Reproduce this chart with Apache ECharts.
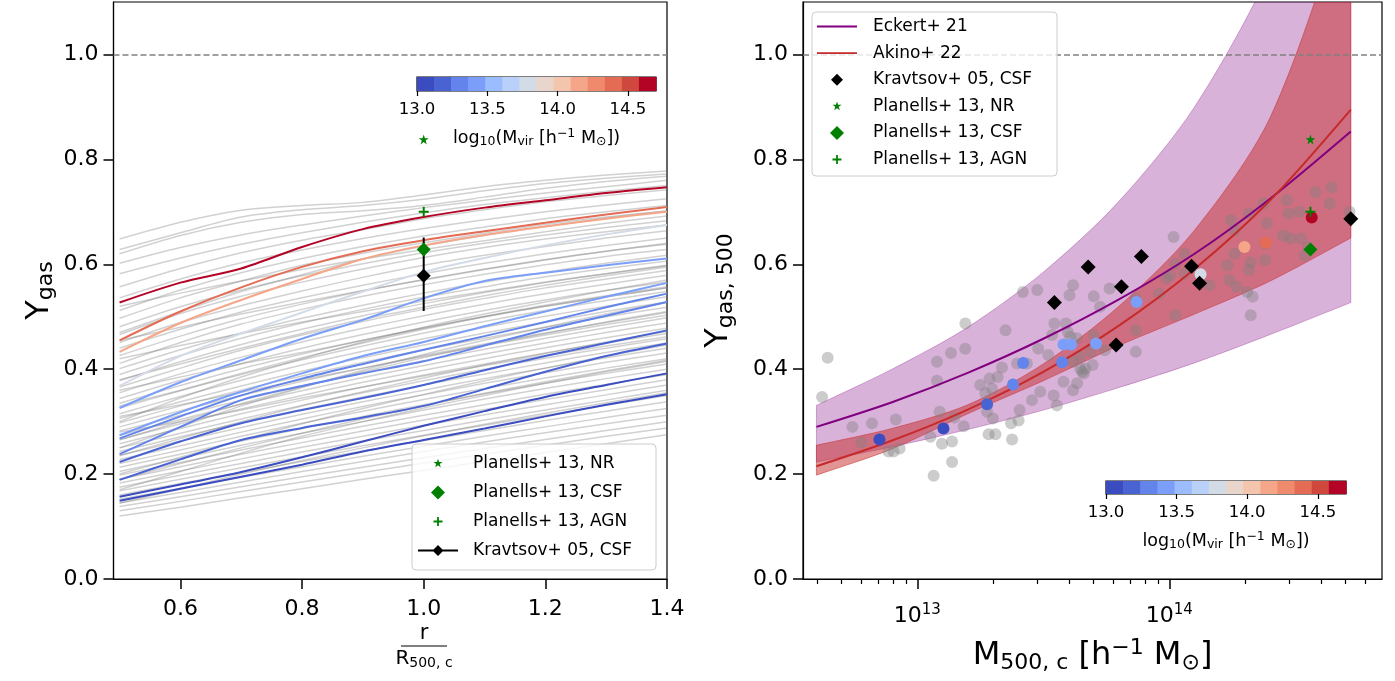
<!DOCTYPE html>
<html><head><meta charset="utf-8">
<script src="https://cdn.jsdelivr.net/npm/echarts@6/dist/echarts.min.js"></script>
<style>html,body{margin:0;padding:0;background:#fff}#c{width:1395px;height:681px}</style>
</head><body><div id="c"></div>
<script>
// ---------------- DATA ----------------
const RADII = [0.5,0.6,0.7,0.8,0.9,1.0,1.1,1.2,1.3,1.4];
const GREY_PROFILES = [
[0.648,0.680,0.703,0.712,0.718,0.732,0.748,0.760,0.770,0.778],
[0.628,0.660,0.690,0.704,0.712,0.724,0.740,0.754,0.764,0.772],
[0.602,0.632,0.656,0.675,0.692,0.708,0.722,0.736,0.748,0.760],
[0.582,0.612,0.638,0.660,0.680,0.698,0.714,0.727,0.739,0.750],
[0.557,0.592,0.622,0.646,0.666,0.687,0.704,0.719,0.731,0.742],
[0.536,0.572,0.603,0.627,0.649,0.668,0.685,0.700,0.713,0.725],
[0.512,0.551,0.584,0.611,0.634,0.654,0.671,0.687,0.700,0.712],
[0.497,0.536,0.568,0.598,0.621,0.641,0.659,0.676,0.690,0.701],
[0.481,0.519,0.551,0.578,0.601,0.622,0.640,0.656,0.670,0.683],
[0.466,0.506,0.539,0.566,0.591,0.613,0.632,0.648,0.662,0.675],
[0.451,0.489,0.521,0.549,0.575,0.598,0.617,0.634,0.650,0.664],
[0.440,0.476,0.509,0.536,0.560,0.582,0.602,0.620,0.636,0.650],
[0.426,0.463,0.496,0.524,0.549,0.571,0.591,0.609,0.625,0.638],
[0.411,0.451,0.486,0.514,0.539,0.561,0.581,0.599,0.615,0.628],
[0.401,0.437,0.469,0.497,0.522,0.545,0.566,0.585,0.602,0.617],
[0.390,0.426,0.459,0.488,0.514,0.537,0.557,0.576,0.592,0.606],
[0.378,0.414,0.447,0.476,0.502,0.525,0.546,0.565,0.582,0.597],
[0.366,0.402,0.436,0.465,0.491,0.514,0.535,0.555,0.572,0.588],
[0.355,0.391,0.423,0.452,0.478,0.502,0.524,0.544,0.562,0.579],
[0.344,0.379,0.411,0.440,0.466,0.490,0.512,0.532,0.550,0.566],
[0.335,0.369,0.401,0.429,0.455,0.479,0.501,0.522,0.540,0.557],
[0.326,0.359,0.390,0.418,0.444,0.469,0.491,0.512,0.531,0.548],
[0.315,0.348,0.379,0.408,0.434,0.458,0.480,0.501,0.520,0.538],
[0.306,0.338,0.368,0.396,0.422,0.446,0.469,0.490,0.510,0.528],
[0.298,0.330,0.360,0.387,0.413,0.437,0.459,0.480,0.500,0.518],
[0.290,0.321,0.350,0.377,0.402,0.426,0.448,0.469,0.489,0.508],
[0.282,0.312,0.341,0.368,0.393,0.416,0.438,0.459,0.479,0.498],
[0.274,0.304,0.333,0.359,0.384,0.407,0.429,0.450,0.470,0.488],
[0.266,0.296,0.324,0.350,0.375,0.398,0.420,0.441,0.460,0.478],
[0.258,0.287,0.315,0.341,0.366,0.389,0.410,0.431,0.450,0.468],
[0.250,0.278,0.305,0.331,0.355,0.378,0.400,0.421,0.440,0.458],
[0.243,0.271,0.298,0.323,0.347,0.370,0.391,0.412,0.432,0.450],
[0.236,0.263,0.289,0.314,0.338,0.360,0.382,0.402,0.422,0.440],
[0.228,0.254,0.280,0.305,0.329,0.351,0.373,0.393,0.413,0.431],
[0.220,0.246,0.272,0.297,0.320,0.342,0.363,0.383,0.402,0.420],
[0.213,0.238,0.263,0.287,0.310,0.332,0.353,0.373,0.392,0.410],
[0.205,0.230,0.255,0.278,0.300,0.322,0.343,0.363,0.382,0.400],
[0.198,0.222,0.246,0.269,0.291,0.312,0.332,0.352,0.371,0.390],
[0.190,0.214,0.238,0.260,0.282,0.303,0.323,0.342,0.361,0.380],
[0.183,0.206,0.229,0.251,0.272,0.293,0.313,0.332,0.351,0.370],
[0.175,0.198,0.220,0.242,0.263,0.283,0.303,0.322,0.341,0.360],
[0.168,0.190,0.212,0.233,0.254,0.274,0.293,0.312,0.331,0.350],
[0.160,0.182,0.203,0.224,0.244,0.264,0.283,0.302,0.320,0.338],
[0.152,0.173,0.194,0.214,0.234,0.253,0.272,0.290,0.308,0.325],
[0.145,0.165,0.185,0.205,0.224,0.243,0.261,0.279,0.296,0.312],
[0.138,0.157,0.176,0.195,0.213,0.231,0.249,0.266,0.283,0.300],
[0.130,0.148,0.167,0.185,0.203,0.221,0.238,0.255,0.272,0.288],
[0.120,0.137,0.155,0.172,0.190,0.207,0.224,0.241,0.258,0.275],
[0.360,0.385,0.410,0.432,0.455,0.478,0.500,0.520,0.538,0.555],
[0.250,0.290,0.330,0.365,0.398,0.428,0.455,0.480,0.505,0.528],
[0.300,0.345,0.385,0.420,0.452,0.480,0.505,0.528,0.550,0.570],
[0.420,0.445,0.468,0.490,0.510,0.530,0.548,0.566,0.582,0.598],
[0.200,0.232,0.265,0.296,0.325,0.352,0.378,0.402,0.425,0.446],
[0.170,0.205,0.240,0.272,0.300,0.326,0.350,0.373,0.395,0.415],
[0.280,0.300,0.322,0.345,0.366,0.387,0.407,0.426,0.444,0.462],
[0.470,0.510,0.548,0.580,0.610,0.635,0.655,0.672,0.688,0.702],
[0.520,0.545,0.568,0.590,0.610,0.628,0.645,0.662,0.678,0.692],
[0.620,0.655,0.680,0.695,0.702,0.712,0.728,0.745,0.758,0.768],
[0.380,0.410,0.440,0.468,0.495,0.518,0.540,0.560,0.578,0.595],
[0.235,0.268,0.300,0.330,0.357,0.383,0.408,0.430,0.452,0.472],
[0.310,0.332,0.356,0.380,0.402,0.424,0.445,0.465,0.485,0.503],
[0.145,0.172,0.200,0.226,0.250,0.273,0.295,0.316,0.336,0.355],
[0.455,0.480,0.505,0.528,0.550,0.570,0.590,0.608,0.625,0.640],
[0.265,0.300,0.334,0.366,0.395,0.422,0.446,0.468,0.490,0.510],
[0.330,0.360,0.392,0.422,0.450,0.476,0.500,0.520,0.538,0.555],
[0.190,0.220,0.250,0.278,0.305,0.330,0.354,0.376,0.397,0.417]
];
const PROFILE_LOGMVIR = [14.68,14.40,14.15,13.78,13.40,13.38,13.30,13.28,13.20,13.15,13.05,13.02];
const COLORED_PROFILES = [
[0.527,0.565,0.592,0.633,0.667,0.690,0.708,0.722,0.736,0.747],
[0.455,0.510,0.556,0.595,0.625,0.646,0.663,0.679,0.695,0.709],
[0.433,0.488,0.532,0.572,0.610,0.636,0.656,0.672,0.687,0.700],
[0.368,0.425,0.468,0.508,0.548,0.585,0.612,0.636,0.657,0.675],
[0.326,0.375,0.417,0.458,0.494,0.535,0.568,0.584,0.598,0.611],
[0.274,0.318,0.357,0.392,0.425,0.452,0.482,0.510,0.538,0.5645],
[0.268,0.310,0.350,0.382,0.410,0.437,0.463,0.490,0.518,0.544],
[0.238,0.290,0.341,0.368,0.392,0.415,0.445,0.475,0.502,0.528],
[0.223,0.262,0.297,0.322,0.345,0.370,0.398,0.425,0.450,0.474],
[0.189,0.228,0.265,0.288,0.308,0.330,0.362,0.395,0.425,0.449],
[0.157,0.180,0.204,0.232,0.262,0.292,0.320,0.347,0.370,0.392],
[0.149,0.172,0.195,0.218,0.243,0.265,0.287,0.310,0.332,0.352]
];
// left panel reference points at r = R500c
const REF_R = 1.0;
const KRAVTSOV_Y = 0.578, KRAVTSOV_ERR = [0.511, 0.651];
const PLANELLI_NR = 0.838, PLANELLI_CSF = 0.628, PLANELLI_AGN = 0.700;

// right panel
const FIT_MASS = [3.98e12,7.94e12,1.585e13,3.162e13,6.31e13,1.259e14,2.512e14,5.248e14];
const ECKERT_MID = [0.290,0.337,0.393,0.458,0.533,0.620,0.725,0.853];
const ECKERT_LO  = [0.223,0.252,0.285,0.322,0.365,0.412,0.466,0.527];
const ECKERT_HI  = [0.331,0.400,0.480,0.585,0.720,0.900,1.160,1.550];
const AKINO_MID  = [0.215,0.264,0.323,0.395,0.483,0.591,0.722,0.895];
const AKINO_LO   = [0.198,0.248,0.315,0.378,0.445,0.505,0.568,0.650];
const AKINO_HI   = [0.255,0.287,0.332,0.410,0.520,0.665,0.880,1.300];
const GREY_DOTS = [
[4.41e12,0.422],[4.19e12,0.347],[5.53e12,0.290],[6.61e12,0.297],[8.22e12,0.304],[6.0e12,0.260],[7.69e12,0.243],[8.05e12,0.243],[8.51e12,0.249],
[1.127e13,0.271],[1.227e13,0.319],[1.253e13,0.258],[1.374e13,0.262],[1.374e13,0.223],[1.161e13,0.197],[1.197e13,0.414],[1.361e13,0.431],[1.549e13,0.439],
[1.197e13,0.378],[1.403e13,0.308],[1.528e13,0.291],[1.778e13,0.370],[1.936e13,0.382],[2.084e13,0.385],[2.168e13,0.403],[1.862e13,0.354],[1.977e13,0.363],
[1.892e13,0.319],[1.995e13,0.306],[1.919e13,0.276],[2.042e13,0.276],[2.355e13,0.297],[2.523e13,0.302],[2.377e13,0.266],[2.547e13,0.322],[2.239e13,0.474],
[2.851e13,0.341],[3.076e13,0.357],[3.475e13,0.350],[3.581e13,0.331],[2.489e13,0.411],[2.723e13,0.411],[3.02e13,0.439],[3.311e13,0.427],[3.428e13,0.465],
[3.802e13,0.376],[4.15e13,0.360],[4.305e13,0.373],[4.508e13,0.395],[4.645e13,0.401],[4.436e13,0.423],[4.046e13,0.462],[5.012e13,0.465],
[1.552e13,0.487],[2.624e13,0.547],[2.992e13,0.551],[4.15e13,0.560],[4.018e13,0.541],[5.012e13,0.539],[5.794e13,0.554],[5.309e13,0.519],[3.499e13,0.487],
[3.89e13,0.487],[3.954e13,0.471],[4.295e13,0.459],[5.546e13,0.436],[4.887e13,0.433],[4.15e13,0.414],[4.436e13,0.401],[4.581e13,0.392],[4.966e13,0.408],
[7.362e13,0.474],[7.362e13,0.433],[7.362e13,0.535],[9.12e13,0.544],[9.727e13,0.573],[1.057e14,0.601],[1.148e14,0.620],[1.057e14,0.503],[1.148e14,0.582],
[1.007e14,0.579],[1.445e14,0.560],[1.698e14,0.598],[1.845e14,0.557],[1.816e14,0.620],[1.73e14,0.570],[2.037e14,0.547],[2.104e14,0.503],[2.07e14,0.589],
[2.104e14,0.604],[2.399e14,0.608],[2.399e14,0.639],[2.438e14,0.678],[2.07e14,0.697],[1.758e14,0.684],[1.816e14,0.665],[2.36e14,0.716],[2.831e14,0.655],
[3.02e14,0.649],[3.334e14,0.649],[2.972e14,0.697],[2.924e14,0.722],[3.281e14,0.700],[3.802e14,0.738],[4.406e14,0.747],[4.335e14,0.716],[3.556e14,0.633],
[3.443e14,0.617],[5.188e14,0.700],[1.04e14,0.652],[2.143e14,0.538]
];
const SIM_MASS   = [7.08e12,1.27e13,1.892e13,2.399e13,2.63e13,3.758e13,3.802e13,4.074e13,5.117e13,7.413e13,1.33e14,1.986e14,2.415e14,3.673e14];
const SIM_Y      = [0.266,0.287,0.333,0.371,0.412,0.413,0.447,0.447,0.449,0.528,0.581,0.633,0.641,0.689];
const SIM_LOGMVIR= [13.02,13.12,13.17,13.25,13.30,13.32,13.38,13.40,13.42,13.45,13.78,14.15,14.40,14.68];
const KRAVTSOV_MASS = [3.5e13,4.764e13,6.457e13,7.745e13,6.152e13,1.225e14,1.318e14,5.248e14];
const KRAVTSOV_YM   = [0.527,0.595,0.557,0.615,0.446,0.596,0.564,0.687];
const PLANELLI_MASS = 3.63e14;

// axes / ticks
const Y_TICKS = [0,0.2,0.4,0.6,0.8,1.0];
const R_TICKS = [0.6,0.8,1.0,1.2,1.4];
const M_MAJOR = [1e13,1e14];
const M_MINOR = [4e12,5e12,6e12,7e12,8e12,9e12,2e13,3e13,4e13,5e13,6e13,7e13,8e13,9e13,2e14,3e14,4e14,5e14,6e14];
const M_RANGE = [3.52e12, 6.98e14];
const CB_RANGE = [13.0, 14.7];
const CB_TICKS = [13.0,13.5,14.0,14.5];
const CMAP_COLORS = ['#3b4cc0','#4a63d3','#6384eb','#7b9ff9','#9bbcff','#b9d0f9','#d3dbe7','#e8d6cc','#f4c5ad','#f6a688','#f08a6c','#e46c54','#d0473d','#b40426'];

// ---------------- BUILD ----------------
const FONT = 'DejaVu Sans';
function colorFor(m){
  let i = Math.floor((m - CB_RANGE[0]) / (CB_RANGE[1]-CB_RANGE[0]) * CMAP_COLORS.length);
  i = Math.max(0, Math.min(CMAP_COLORS.length-1, i));
  return CMAP_COLORS[i];
}
const PAD = 'M0 0 M40 14 ';
const STAR_SHAPE = 'M20 2.2 L21.076 5.519 L24.565 5.517 L21.741 7.566 L22.821 10.883 L20 8.83 L17.179 10.883 L18.259 7.566 L15.435 5.517 L18.924 5.519 Z';
const PLUS_SHAPE = 'M15.5 6.1 L24.5 6.1 L24.5 7.9 L15.5 7.9 Z M19.1 2.5 L20.9 2.5 L20.9 11.5 L19.1 11.5 Z';
const ICON_STAR = 'path://' + PAD + STAR_SHAPE;
const ICON_PLUS = 'path://' + PAD + PLUS_SHAPE;
const ICON_DIAMOND_G = 'path://' + PAD + 'M20 0 L27 7 L20 14 L13 7 Z';
const ICON_DIAMOND_K = 'path://' + PAD + 'M20 1 L26 7 L20 13 L14 7 Z';
const ICON_LINE = 'path://' + PAD + 'M0 6.1 L40 6.1 L40 7.9 L0 7.9 Z';
const ICON_LINE_DIAMOND = 'path://' + PAD + 'M0 6.1 L40 6.1 L40 7.9 L0 7.9 Z M20 1.5 L25.5 7 L20 12.5 L14.5 7 Z';
const SYM_STAR = 'path://' + STAR_SHAPE;
const SYM_PLUS = 'path://' + PLUS_SHAPE;
const GREEN = '#008000';

const tickLabel = {fontFamily: FONT, fontSize: 22, color: '#000'};
const richName = (big, small) => ({
  m: {fontFamily: FONT, fontSize: big, color: '#000'},
  s: {fontFamily: FONT, fontSize: small, color: '#000', padding: [Math.round(big*0.45),0,0,0]},
  p: {fontFamily: FONT, fontSize: small, color: '#000', padding: [0,0,Math.round(big*0.5),0]}
});

const series = [];
const dashLine = {symbol:'none', silent:true, label:{show:false}, lineStyle:{color:'#808080', width:1.5, type:[6,3]}, data:[{yAxis:1.0}], animation:false};

GREY_PROFILES.forEach((p, k) => series.push({
  type:'line', xAxisIndex:0, yAxisIndex:0, symbol:'none', smooth:0.3, silent:true, z:2,
  data: RADII.map((r,i)=>[r,p[i]]),
  lineStyle:{color:'rgba(128,128,128,0.36)', width:1.5},
  markLine: k===0 ? dashLine : undefined
}));
COLORED_PROFILES.forEach((p, k) => series.push({
  type:'line', xAxisIndex:0, yAxisIndex:0, symbol:'none', smooth:0.3, silent:true, z:3,
  data: RADII.map((r,i)=>[r,p[i]]),
  lineStyle:{color: colorFor(PROFILE_LOGMVIR[k]), width:2}
}));
// left reference markers
series.push({type:'line', xAxisIndex:0, yAxisIndex:0, symbol:'none', z:5, silent:true,
  data:[[REF_R, KRAVTSOV_ERR[0]],[REF_R, KRAVTSOV_ERR[1]]], lineStyle:{color:'#000', width:2}});
series.push({type:'line', name:'Kravtsov+ 05, CSF', xAxisIndex:0, yAxisIndex:0, z:6,
  data:[[REF_R, KRAVTSOV_Y]], symbol:'diamond', symbolSize:14, itemStyle:{color:'#000', opacity:1}, lineStyle:{color:'#000', width:2}});
series.push({type:'scatter', name:'Planells+ 13, NR', xAxisIndex:0, yAxisIndex:0, z:6,
  data:[[REF_R, PLANELLI_NR]], symbol:SYM_STAR, symbolSize:10, itemStyle:{color:GREEN, opacity:1}});
series.push({type:'scatter', name:'Planells+ 13, CSF', xAxisIndex:0, yAxisIndex:0, z:6,
  data:[[REF_R, PLANELLI_CSF]], symbol:'diamond', symbolSize:14, itemStyle:{color:GREEN, opacity:1}});
series.push({type:'scatter', name:'Planells+ 13, AGN', xAxisIndex:0, yAxisIndex:0, z:6,
  data:[[REF_R, PLANELLI_AGN]], symbol:SYM_PLUS, symbolSize:10, itemStyle:{color:GREEN, opacity:1}});

// right panel uncertainty bands (polygon through the read edge points, via the axes)
function bandSeries(lo, hi, color){
  return {type:'custom', xAxisIndex:1, yAxisIndex:1, silent:true, z:1,
    data:[[FIT_MASS[0], lo[0]]], encode:{x:0, y:1},
    renderItem(params, api){
      const L = FIT_MASS.map((m,i)=>api.coord([m, lo[i]]));
      const H = FIT_MASS.map((m,i)=>api.coord([m, hi[i]]));
      const n = L.length;
      const pts = L.concat([L[n-1].slice(), H[n-1].slice()], H.slice().reverse(), [H[0].slice(), L[0].slice()]);
      const cs = params.coordSys;
      return {type:'polygon', shape:{points:pts, smooth:0.3},
        style:{fill:color, stroke:color, lineWidth:1},
        clipPath:{type:'rect', shape:{x:cs.x, y:cs.y, width:cs.width, height:cs.height}}};
    }};
}
series.push(bandSeries(ECKERT_LO, ECKERT_HI, 'rgba(128,0,128,0.3)'));
series.push(bandSeries(AKINO_LO, AKINO_HI, 'rgba(198,42,42,0.5)'));
series.push({type:'scatter', xAxisIndex:1, yAxisIndex:1, z:3, silent:true, data:GREY_DOTS, symbolSize:12,
  itemStyle:{color:'rgba(128,128,128,0.4)', opacity:1}});
series.push({type:'line', name:'Eckert+ 21', xAxisIndex:1, yAxisIndex:1, symbol:'none', smooth:0.3, z:4,
  data: FIT_MASS.map((m,i)=>[m, ECKERT_MID[i]]), lineStyle:{color:'#800080', width:2}, itemStyle:{color:'#800080'},
  markLine: dashLine});
series.push({type:'line', name:'Akino+ 22', xAxisIndex:1, yAxisIndex:1, symbol:'none', smooth:0.3, z:4,
  data: FIT_MASS.map((m,i)=>[m, AKINO_MID[i]]), lineStyle:{color:'#c62a2a', width:2}, itemStyle:{color:'#c62a2a'}});
series.push({type:'scatter', xAxisIndex:1, yAxisIndex:1, z:5, silent:true, symbolSize:12,
  data: SIM_MASS.map((m,i)=>({value:[m, SIM_Y[i]], itemStyle:{color: colorFor(SIM_LOGMVIR[i]), opacity:1}}))});
series.push({type:'scatter', name:'Kravtsov+ 05, CSF', xAxisIndex:1, yAxisIndex:1, z:6, symbol:'diamond', symbolSize:15,
  data: KRAVTSOV_MASS.map((m,i)=>[m, KRAVTSOV_YM[i]]), itemStyle:{color:'#000', opacity:1}});
series.push({type:'scatter', name:'Planells+ 13, NR', xAxisIndex:1, yAxisIndex:1, z:6,
  data:[[PLANELLI_MASS, PLANELLI_NR]], symbol:SYM_STAR, symbolSize:10, itemStyle:{color:GREEN, opacity:1}});
series.push({type:'scatter', name:'Planells+ 13, CSF', xAxisIndex:1, yAxisIndex:1, z:6,
  data:[[PLANELLI_MASS, PLANELLI_CSF]], symbol:'diamond', symbolSize:14, itemStyle:{color:GREEN, opacity:1}});
series.push({type:'scatter', name:'Planells+ 13, AGN', xAxisIndex:1, yAxisIndex:1, z:6,
  data:[[PLANELLI_MASS, PLANELLI_AGN]], symbol:SYM_PLUS, symbolSize:10, itemStyle:{color:GREEN, opacity:1}});

// colorbars
const step = (CB_RANGE[1]-CB_RANGE[0]) / CMAP_COLORS.length;
const CB_BINS = CMAP_COLORS.map((c,i)=>[CB_RANGE[0]+i*step, CB_RANGE[0]+(i+1)*step, i]);
function cbRender(params, api){
  const p0 = api.coord([api.value(0), 0]);
  const p1 = api.coord([api.value(1), 1]);
  return {type:'rect', shape:{x:p0[0], y:p1[1], width:p1[0]-p0[0]+0.6, height:p0[1]-p1[1]},
    style:{fill: CMAP_COLORS[api.value(2)]}};
}
[[4,2],[5,3]].forEach(([xi, yi]) => series.push({type:'custom', xAxisIndex:xi, yAxisIndex:yi, silent:true, z:10,
  renderItem: cbRender, data: CB_BINS, encode:{x:[0,1]}}));

const gridBase = {show:true, borderColor:'#000', borderWidth:1.2, backgroundColor:'transparent', containLabel:false, outerBoundsMode:'none'};
const axisLine = {show:true, lineStyle:{color:'#000', width:1.2}};
const yAxisMain = (gi) => ({type:'value', gridIndex:gi, min:0, max:1.1, splitLine:{show:false}, axisLine,
  axisTick:{show:true, length:10, lineStyle:{color:'#000', width:1.5}, customValues:Y_TICKS},
  axisLabel:{customValues:Y_TICKS, margin:15, ...tickLabel, formatter:v=>v.toFixed(1)}});
const cbX = (gi) => ({type:'value', gridIndex:gi, min:CB_RANGE[0], max:CB_RANGE[1], splitLine:{show:false},
  axisLine:{show:false}, axisTick:{show:true, length:5, lineStyle:{color:'#000', width:1.2}, customValues:CB_TICKS},
  axisLabel:{customValues:CB_TICKS, margin:10, fontFamily:FONT, fontSize:16.5, color:'#000', formatter:v=>v.toFixed(1)},
  name:'{m|log}{s|10}{m|(M}{s|vir}{m| [h}{p|−1}{m| M}{s|⊙}{m|])}', nameLocation:'middle', nameGap:36,
  nameTextStyle:{rich: richName(17.5, 12.5)}});
const cbY = (gi) => ({type:'value', gridIndex:gi, min:0, max:1, show:false});

const option = {
  animation:false,
  backgroundColor:'#fff',
  grid:[
    {...gridBase, left:113.5, top:2, width:553.5, height:577},
    {...gridBase, left:803, top:2, width:579, height:577},
    {...gridBase, left:417, top:77, width:239, height:14, z:9},
    {...gridBase, left:1106, top:481, width:240, height:13, z:9}
  ],
  xAxis:[
    {type:'value', gridIndex:0, min:0.49, max:1.4, splitLine:{show:false}, axisLine,
      axisTick:{show:true, length:10, lineStyle:{color:'#000', width:1.5}, customValues:R_TICKS},
      axisLabel:{customValues:R_TICKS, margin:19, ...tickLabel, formatter:v=>v.toFixed(1)}},
    {type:'log', logBase:10, gridIndex:1, position:'bottom', min:M_RANGE[0], max:M_RANGE[1], splitLine:{show:false}, axisLine,
      axisTick:{show:false}, axisLabel:{show:false},
      name:'{m|M}{s|500, c}{m| [h}{p|−1}{m| M}{s|⊙}{m|]}', nameLocation:'middle', nameGap:58,
      nameTextStyle:{rich: richName(32, 22)}},
    {type:'value', gridIndex:1, position:'bottom', min:Math.log10(M_RANGE[0]), max:Math.log10(M_RANGE[1]), splitLine:{show:false},
      axisLine:{show:false}, axisTick:{show:true, length:10, lineStyle:{color:'#000', width:1.5}, customValues:M_MAJOR.map(Math.log10)},
      axisLabel:{customValues:M_MAJOR.map(Math.log10), margin:24, formatter:v=>'{b|10}{e|'+Math.round(v)+'}',
        rich:{b:{fontFamily:FONT, fontSize:22, color:'#000'}, e:{fontFamily:FONT, fontSize:15, color:'#000', padding:[0,0,12,0]}}}},
    {type:'value', gridIndex:1, position:'bottom', min:Math.log10(M_RANGE[0]), max:Math.log10(M_RANGE[1]), splitLine:{show:false},
      axisLine:{show:false}, axisTick:{show:true, length:5, lineStyle:{color:'#000', width:1.2}, customValues:M_MINOR.map(Math.log10)},
      axisLabel:{show:false}},
    cbX(2), cbX(3)
  ],
  yAxis:[
    {...yAxisMain(0), name:'{m|Y}{s|gas}', nameLocation:'middle', nameRotate:90, nameGap:56, nameTextStyle:{rich: richName(32, 22)}},
    {...yAxisMain(1), name:'{m|Y}{s|gas, 500}', nameLocation:'middle', nameRotate:90, nameGap:66, nameTextStyle:{rich: richName(32, 22)}},
    cbY(2), cbY(3)
  ],
  legend:[
    {left:412, top:444, orient:'vertical', padding:[11,8,11,6], itemWidth:40, itemHeight:14, itemGap:12, z:20,
      backgroundColor:'rgba(255,255,255,0.8)', borderColor:'#cccccc', borderWidth:1, borderRadius:4, selectedMode:false,
      itemStyle:{borderWidth:0, opacity:1},
      textStyle:{fontFamily:FONT, fontSize:17, color:'#000', lineHeight:14, padding:[0,0,0,10], width:175},
      data:[{name:'Planells+ 13, NR', icon:ICON_STAR},{name:'Planells+ 13, CSF', icon:ICON_DIAMOND_G},
            {name:'Planells+ 13, AGN', icon:ICON_PLUS},{name:'Kravtsov+ 05, CSF', icon:ICON_LINE_DIAMOND}]},
    {left:812, top:12, orient:'vertical', padding:[6,9,8,5], itemWidth:40, itemHeight:14, itemGap:9.6, z:20,
      backgroundColor:'rgba(255,255,255,0.8)', borderColor:'#cccccc', borderWidth:1, borderRadius:4, selectedMode:false,
      itemStyle:{borderWidth:0, opacity:1},
      textStyle:{fontFamily:FONT, fontSize:17, color:'#000', lineHeight:14, padding:[0,0,0,11], width:175},
      data:[{name:'Eckert+ 21', icon:ICON_LINE},{name:'Akino+ 22', icon:ICON_LINE},{name:'Kravtsov+ 05, CSF', icon:ICON_DIAMOND_K},
            {name:'Planells+ 13, NR', icon:ICON_STAR},{name:'Planells+ 13, CSF', icon:ICON_DIAMOND_G},{name:'Planells+ 13, AGN', icon:ICON_PLUS}]}
  ],
  graphic:[
    {type:'text', x:424, y:634, style:{text:'r', fontFamily:FONT, fontSize:21, fill:'#000', align:'center', verticalAlign:'middle'}},
    {type:'line', shape:{x1:401, y1:646, x2:447, y2:646}, style:{stroke:'#000', lineWidth:1.2}},
    {type:'text', x:424, y:659, style:{text:'{m|R}{s|500, c}', rich: richName(20, 14), align:'center', verticalAlign:'middle'}}
  ],
  series
};
const chart = echarts.init(document.getElementById('c'));
chart.setOption(option);
</script></body></html>
